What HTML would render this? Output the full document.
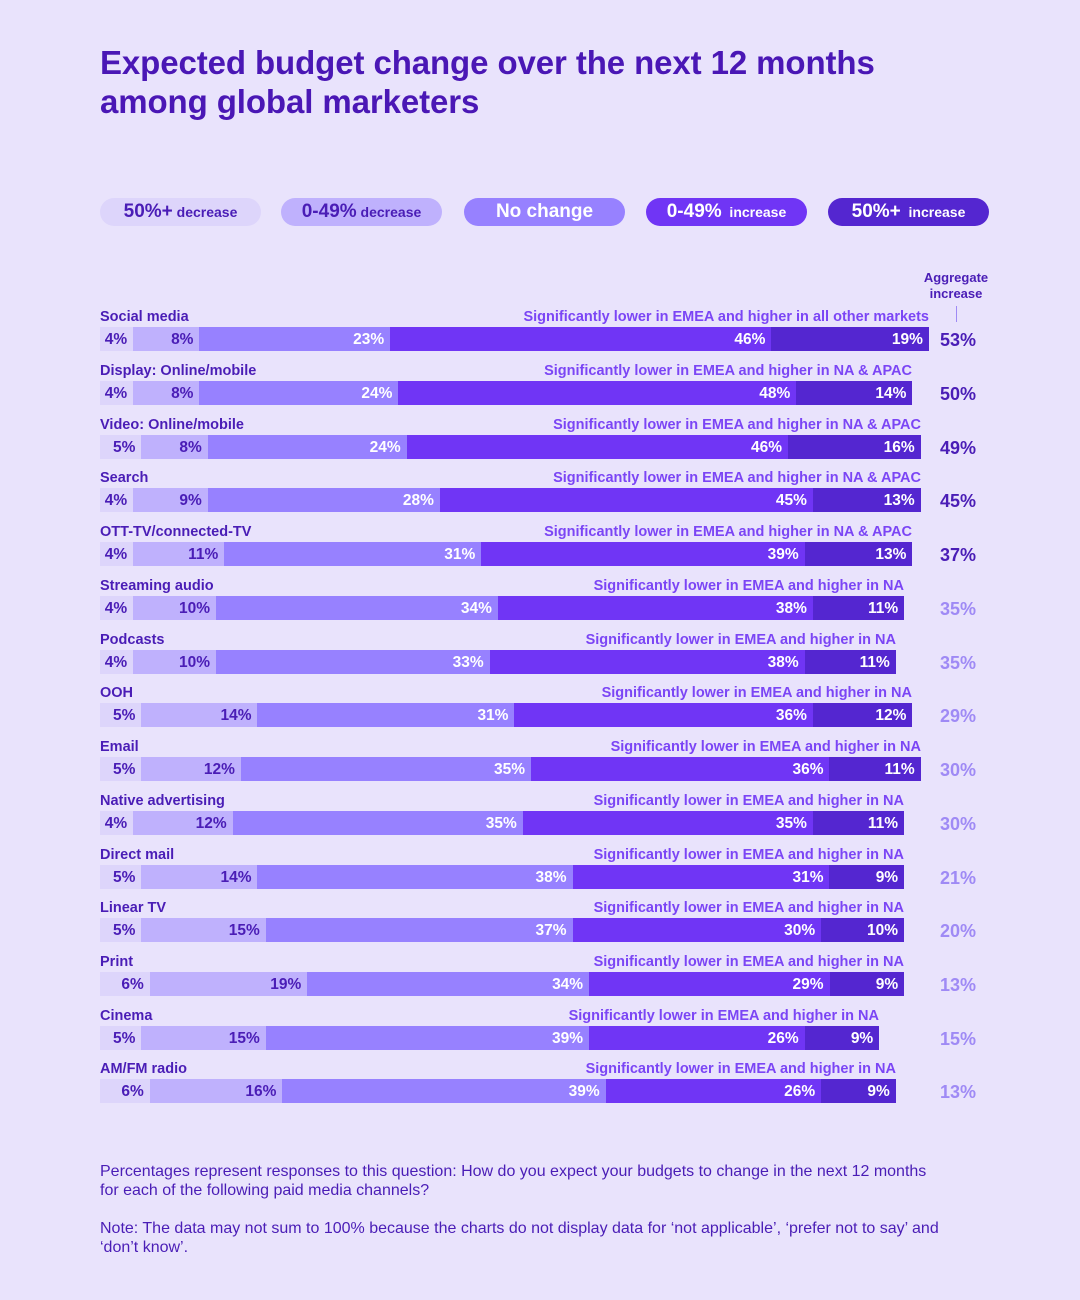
<!DOCTYPE html>
<html><head><meta charset="utf-8"><style>
*{margin:0;padding:0;box-sizing:border-box}
body{width:1080px;height:1300px;background:#E9E3FC;font-family:"Liberation Sans",sans-serif;position:relative;overflow:hidden;color:#4A1DB6}
h1{position:absolute;left:100px;top:43px;font-size:33px;line-height:39px;font-weight:bold;color:#4A17B5;letter-spacing:-0.1px}
.pill{position:absolute;top:198px;height:28px;width:161px;border-radius:14px;text-align:center;line-height:28px;font-weight:bold;font-size:14px}
.pill b{font-size:19px}
.row{position:absolute;left:100px;width:900px;height:24px}
.lab{position:absolute;left:0;top:-18px;font-size:14.5px;font-weight:bold;color:#4A1DB6;white-space:nowrap}
.note{position:absolute;top:-18px;font-size:14.5px;font-weight:bold;color:#7B45F5;white-space:nowrap;text-align:right}
.bar{position:absolute;left:0;top:0;width:829px;height:24px;display:flex}
.bar div{height:24px;text-align:right;padding-right:6px;font-size:15.5px;font-weight:bold;line-height:25px;white-space:nowrap}
.s1{background:#DDD5FB;color:#4A1DB6}.s2{background:#BFB1FD;color:#4A1DB6}.s3{background:#9781FF;color:#fff}.s4{background:#7035F5;color:#fff}.s5{background:#5426D0;color:#fff}
.agg{position:absolute;left:840px;top:0;line-height:26px;font-size:18px;font-weight:bold}
.d{color:#4A1DB6}.l{color:#9F8AF5}
.foot{position:absolute;left:100px;font-size:16px;line-height:19px;color:#4A1DB6;width:840px}
</style></head><body>
<h1>Expected budget change over the next 12 months<br>among global marketers</h1>
<div class="pill" style="left:100px;background:#DDD5FB;color:#4A1DB6"><b>50%+</b> decrease</div>
<div class="pill" style="left:281px;background:#BFB1FD;color:#4A1DB6"><b>0-49%</b> decrease</div>
<div class="pill" style="left:464px;background:#9781FF;color:#fff"><b style="font-size:19px">No change</b></div>
<div class="pill" style="left:646px;background:#7035F5;color:#fff"><b>0-49%</b>&nbsp; increase</div>
<div class="pill" style="left:828px;background:#5426D0;color:#fff"><b>50%+</b>&nbsp; increase</div>
<div style="position:absolute;left:915px;top:270px;width:82px;text-align:center;font-size:13px;line-height:16px;font-weight:bold;color:#4A1DB6">Aggregate increase</div>
<div style="position:absolute;left:956px;top:306px;width:1px;height:16px;background:#9F8AF5"></div>

<div class="row" style="top:327px"><div class="lab">Social media</div><div class="note" style="right:71px">Significantly lower in EMEA and higher in all other markets</div><div class="bar"><div class="s1" style="width:4%">4%</div><div class="s2" style="width:8%">8%</div><div class="s3" style="width:23%">23%</div><div class="s4" style="width:46%">46%</div><div class="s5" style="width:19%">19%</div></div><div class="agg d">53%</div></div>
<div class="row" style="top:381px"><div class="lab">Display: Online/mobile</div><div class="note" style="right:88px">Significantly lower in EMEA and higher in NA &amp; APAC</div><div class="bar"><div class="s1" style="width:4%">4%</div><div class="s2" style="width:8%">8%</div><div class="s3" style="width:24%">24%</div><div class="s4" style="width:48%">48%</div><div class="s5" style="width:14%">14%</div></div><div class="agg d">50%</div></div>
<div class="row" style="top:435px"><div class="lab">Video: Online/mobile</div><div class="note" style="right:79px">Significantly lower in EMEA and higher in NA &amp; APAC</div><div class="bar"><div class="s1" style="width:5%">5%</div><div class="s2" style="width:8%">8%</div><div class="s3" style="width:24%">24%</div><div class="s4" style="width:46%">46%</div><div class="s5" style="width:16%">16%</div></div><div class="agg d">49%</div></div>
<div class="row" style="top:488px"><div class="lab">Search</div><div class="note" style="right:79px">Significantly lower in EMEA and higher in NA &amp; APAC</div><div class="bar"><div class="s1" style="width:4%">4%</div><div class="s2" style="width:9%">9%</div><div class="s3" style="width:28%">28%</div><div class="s4" style="width:45%">45%</div><div class="s5" style="width:13%">13%</div></div><div class="agg d">45%</div></div>
<div class="row" style="top:542px"><div class="lab">OTT-TV/connected-TV</div><div class="note" style="right:88px">Significantly lower in EMEA and higher in NA &amp; APAC</div><div class="bar"><div class="s1" style="width:4%">4%</div><div class="s2" style="width:11%">11%</div><div class="s3" style="width:31%">31%</div><div class="s4" style="width:39%">39%</div><div class="s5" style="width:13%">13%</div></div><div class="agg d">37%</div></div>
<div class="row" style="top:596px"><div class="lab">Streaming audio</div><div class="note" style="right:96px">Significantly lower in EMEA and higher in NA</div><div class="bar"><div class="s1" style="width:4%">4%</div><div class="s2" style="width:10%">10%</div><div class="s3" style="width:34%">34%</div><div class="s4" style="width:38%">38%</div><div class="s5" style="width:11%">11%</div></div><div class="agg l">35%</div></div>
<div class="row" style="top:650px"><div class="lab">Podcasts</div><div class="note" style="right:104px">Significantly lower in EMEA and higher in NA</div><div class="bar"><div class="s1" style="width:4%">4%</div><div class="s2" style="width:10%">10%</div><div class="s3" style="width:33%">33%</div><div class="s4" style="width:38%">38%</div><div class="s5" style="width:11%">11%</div></div><div class="agg l">35%</div></div>
<div class="row" style="top:703px"><div class="lab">OOH</div><div class="note" style="right:88px">Significantly lower in EMEA and higher in NA</div><div class="bar"><div class="s1" style="width:5%">5%</div><div class="s2" style="width:14%">14%</div><div class="s3" style="width:31%">31%</div><div class="s4" style="width:36%">36%</div><div class="s5" style="width:12%">12%</div></div><div class="agg l">29%</div></div>
<div class="row" style="top:757px"><div class="lab">Email</div><div class="note" style="right:79px">Significantly lower in EMEA and higher in NA</div><div class="bar"><div class="s1" style="width:5%">5%</div><div class="s2" style="width:12%">12%</div><div class="s3" style="width:35%">35%</div><div class="s4" style="width:36%">36%</div><div class="s5" style="width:11%">11%</div></div><div class="agg l">30%</div></div>
<div class="row" style="top:811px"><div class="lab">Native advertising</div><div class="note" style="right:96px">Significantly lower in EMEA and higher in NA</div><div class="bar"><div class="s1" style="width:4%">4%</div><div class="s2" style="width:12%">12%</div><div class="s3" style="width:35%">35%</div><div class="s4" style="width:35%">35%</div><div class="s5" style="width:11%">11%</div></div><div class="agg l">30%</div></div>
<div class="row" style="top:865px"><div class="lab">Direct mail</div><div class="note" style="right:96px">Significantly lower in EMEA and higher in NA</div><div class="bar"><div class="s1" style="width:5%">5%</div><div class="s2" style="width:14%">14%</div><div class="s3" style="width:38%">38%</div><div class="s4" style="width:31%">31%</div><div class="s5" style="width:9%">9%</div></div><div class="agg l">21%</div></div>
<div class="row" style="top:918px"><div class="lab">Linear TV</div><div class="note" style="right:96px">Significantly lower in EMEA and higher in NA</div><div class="bar"><div class="s1" style="width:5%">5%</div><div class="s2" style="width:15%">15%</div><div class="s3" style="width:37%">37%</div><div class="s4" style="width:30%">30%</div><div class="s5" style="width:10%">10%</div></div><div class="agg l">20%</div></div>
<div class="row" style="top:972px"><div class="lab">Print</div><div class="note" style="right:96px">Significantly lower in EMEA and higher in NA</div><div class="bar"><div class="s1" style="width:6%">6%</div><div class="s2" style="width:19%">19%</div><div class="s3" style="width:34%">34%</div><div class="s4" style="width:29%">29%</div><div class="s5" style="width:9%">9%</div></div><div class="agg l">13%</div></div>
<div class="row" style="top:1026px"><div class="lab">Cinema</div><div class="note" style="right:121px">Significantly lower in EMEA and higher in NA</div><div class="bar"><div class="s1" style="width:5%">5%</div><div class="s2" style="width:15%">15%</div><div class="s3" style="width:39%">39%</div><div class="s4" style="width:26%">26%</div><div class="s5" style="width:9%">9%</div></div><div class="agg l">15%</div></div>
<div class="row" style="top:1079px"><div class="lab">AM/FM radio</div><div class="note" style="right:104px">Significantly lower in EMEA and higher in NA</div><div class="bar"><div class="s1" style="width:6%">6%</div><div class="s2" style="width:16%">16%</div><div class="s3" style="width:39%">39%</div><div class="s4" style="width:26%">26%</div><div class="s5" style="width:9%">9%</div></div><div class="agg l">13%</div></div>

<div class="foot" style="top:1162px">Percentages represent responses to this question: How do you expect your budgets to change in the next 12 months for each of the following paid media channels?</div>
<div class="foot" style="top:1219px">Note: The data may not sum to 100% because the charts do not display data for ‘not applicable’, ‘prefer not to say’ and ‘don’t know’.</div>
</body></html>
